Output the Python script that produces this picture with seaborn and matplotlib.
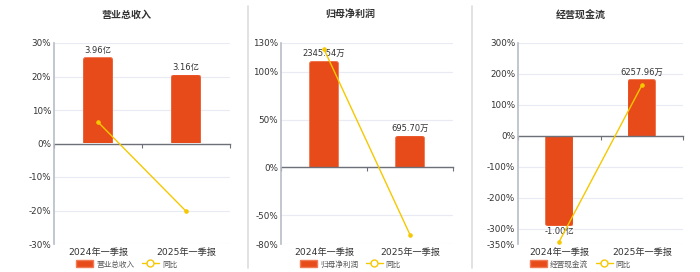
import numpy as np
import matplotlib
matplotlib.use("Agg")
import matplotlib.pyplot as plt
from matplotlib.lines import Line2D
from matplotlib.patches import Patch, FancyBboxPatch
import seaborn as sns

sns.set_theme(style="white")
plt.rcParams["font.family"] = ["DejaVu Sans", "Noto Sans CJK SC"]

# ---- data ----
categories = ["2024年一季报", "2025年一季报"]

revenue = [3.96, 3.16]                 # 亿
revenue_labels = ["3.96亿", "3.16亿"]
revenue_yoy = [6.4, -20.2]             # %

profit = [2345.54, 695.70]             # 万
profit_labels = ["2345.54万", "695.70万"]
profit_yoy = [123.5, -70.3]            # %

cashflow = [-10000.0, 6257.96]         # 万
cashflow_labels = ["-1.00亿", "6257.96万"]
cashflow_yoy = [-342.0, 162.6]         # %

titles = ["营业总收入", "归母净利润", "经营现金流"]
pct_ticks = [
    [-30, -20, -10, 0, 10, 20, 30],
    [-80, -50, 0, 50, 100, 130],
    [-350, -300, -200, -100, 0, 100, 200, 300],
]

# ---- style ----
BAR = "#E84B1A"
BAR_EDGE = "#F07A55"
LINE = "#F5C800"
TEXT = "#333333"
GRID = "#E8EBF3"
AXIS = "#6E7079"

W, H = 700, 272
fig = plt.figure(figsize=(W / 100, H / 100), dpi=100)
fig.patch.set_facecolor("white")

# axes boxes in pixels: left, right, top, bottom
boxes = [(54, 230, 43, 244), (281, 453, 43, 244), (518, 683, 43, 244)]
title_x = [126.7, 350.5, 580.5]
# value units per percentage point for the bar scale
bar_scale = [3.96 / 25.7, 2345.54 / 111.0, 10000.0 / 292.0]
CORNER_PX = 3.0

panels = [
    (revenue, revenue_labels, revenue_yoy),
    (profit, profit_labels, profit_yoy),
    (cashflow, cashflow_labels, cashflow_yoy),
]


def round_bar_ends(axis, rect, ux, uy):
    """Replace a bar rectangle by one with rounded outer corners."""
    x0, y0 = rect.get_x(), rect.get_y()
    w, h = rect.get_width(), rect.get_height()
    ext = CORNER_PX * uy * 1.5
    # extend past the baseline so only the outer end shows rounding
    if h >= 0:
        yb, hb = y0 - ext, h + ext
    else:
        yb, hb = y0 + h, -h + ext
    fb = FancyBboxPatch((x0, yb), w, hb,
                        boxstyle=f"round,pad=0,rounding_size={CORNER_PX * ux}",
                        mutation_aspect=uy / ux,
                        facecolor=rect.get_facecolor(), edgecolor=BAR_EDGE,
                        linewidth=0.6, zorder=2)
    axis.add_patch(fb)
    fb.set_clip_path(rect)
    rect.set_visible(False)


for i, ((vals, labels, yoy), box, ticks, s) in enumerate(
        zip(panels, boxes, pct_ticks, bar_scale)):
    l, r, t, b = box
    ax = fig.add_axes([l / W, 1 - b / H, (r - l) / W, (b - t) / H])
    bx = ax.twinx()
    lo, hi = ticks[0], ticks[-1]

    # bars on the value scale
    sns.barplot(x=categories, y=vals, ax=bx, color=BAR, width=0.34,
                saturation=1, linewidth=0, zorder=2)
    bx.set_xlim(-0.5, 1.5)
    bx.set_ylim(lo * s, hi * s)
    ux = 2.0 / (r - l)
    uy = s * (hi - lo) / (b - t)
    for rect in list(bx.patches):
        round_bar_ends(bx, rect, ux, uy)
    bx.set_yticks([v * s for v in ticks])
    bx.yaxis.grid(True, color=GRID, lw=0.8)
    bx.set_axisbelow(True)
    bx.tick_params(axis="y", right=False, labelright=False)
    bx.set_ylabel("")
    for sp in bx.spines.values():
        sp.set_visible(False)
    for x, v, lab in zip(range(len(vals)), vals, labels):
        if v >= 0:
            bx.annotate(lab, (x, v), xytext=(0, 2), textcoords="offset points",
                        ha="center", va="bottom", fontsize=6, color=TEXT)
        else:
            bx.annotate(lab, (x, v), xytext=(0, -1), textcoords="offset points",
                        ha="center", va="top", fontsize=6, color=TEXT)

    # year-on-year line on the percentage scale
    sns.pointplot(x=categories, y=yoy, ax=ax, color=LINE, markers="o",
                  markersize=2.5, linewidth=1.0)
    ax.set_zorder(bx.get_zorder() + 1)
    ax.patch.set_visible(False)
    ax.set_ylim(lo, hi)
    ax.set_yticks(ticks)
    ax.set_yticklabels([f"{v}%" for v in ticks])
    ax.set_xlim(-0.5, 1.5)
    ax.set_xticks(range(len(categories)))
    ax.set_xticklabels(categories)
    ax.set_xlabel("")
    ax.set_ylabel("")
    ax.tick_params(axis="y", length=0, pad=2, labelsize=6.3, labelcolor=TEXT)
    ax.tick_params(axis="x", length=0, pad=3, labelsize=6.6, labelcolor=TEXT)
    for name, sp in ax.spines.items():
        sp.set_visible(name == "left")
    ax.spines["left"].set_color("#B8BCC6")
    ax.spines["left"].set_linewidth(1.2)

    # zero line with boundary ticks
    zero = ax.secondary_xaxis((0 - lo) / (hi - lo))
    zero.set_alignment("bottom")
    zero.set_xticks([-0.5, 0.5, 1.5])
    zero.set_xticklabels([])
    zero.tick_params(axis="x", length=3, width=0.8, color=AXIS)
    zero.spines["bottom"].set_color(AXIS)
    zero.spines["bottom"].set_linewidth(1.0)

    # panel title
    fig.text(title_x[i] / W, 1 - 15 / H, titles[i], ha="center", va="center",
             fontsize=7.2, fontweight="bold", color=TEXT)

    # legend
    handles = [
        Patch(facecolor=BAR, edgecolor=BAR_EDGE, label=titles[i]),
        Line2D([0], [0], color=LINE, lw=1.0, marker="o", markersize=5,
               markerfacecolor="white", markeredgecolor=LINE, label="同比"),
    ]
    fig.legend(handles=handles, loc="center",
               bbox_to_anchor=(title_x[i] / W, 1 - 264 / H), ncol=2,
               frameon=False, fontsize=5.5, handlelength=2.2, handleheight=1.0,
               columnspacing=1.0, handletextpad=0.4, labelcolor="#555555")

# panel separators
for xs in (248, 472):
    fig.add_artist(Line2D([xs / W, xs / W], [1 - 268 / H, 1 - 6 / H],
                          color="#DDDDDD", lw=1.2))

fig.savefig("out.png", dpi=100, facecolor="white")
